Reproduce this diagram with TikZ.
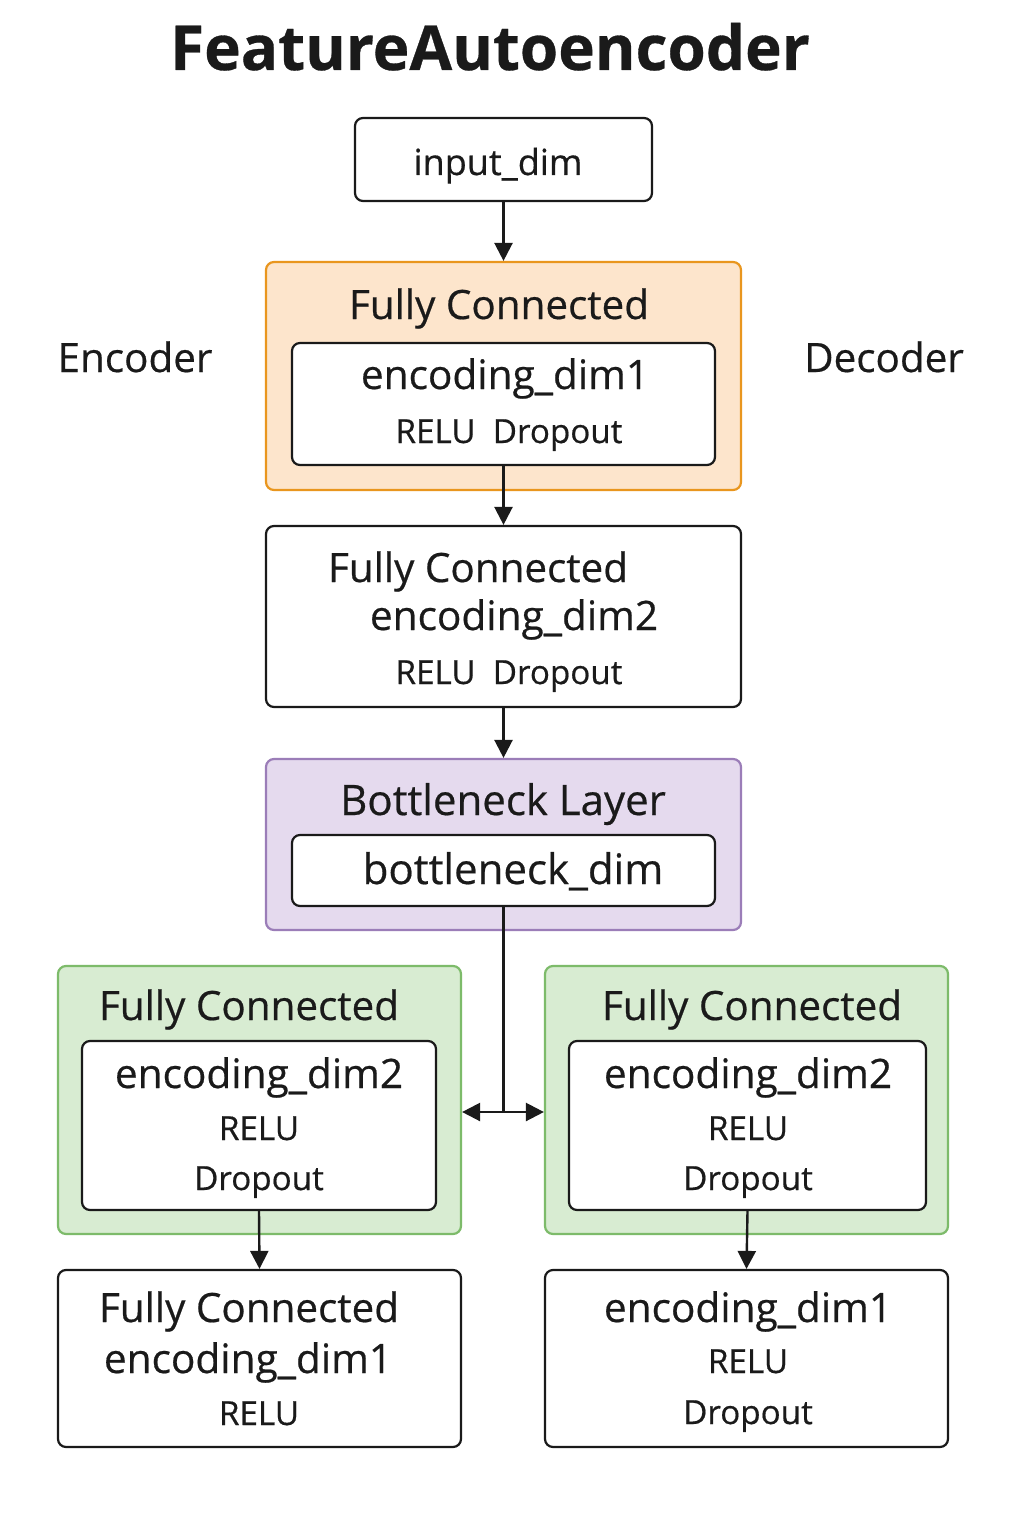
\documentclass[tikz,border=0pt]{standalone}
\usepackage{fontspec}
\setmainfont{Open Sans}[FakeBold=0.5]
\usetikzlibrary{arrows.meta}

\definecolor{inkblack}{HTML}{1A1A1A}
\definecolor{encfill}{HTML}{FDE5CC}
\definecolor{encline}{HTML}{E9961E}
\definecolor{botfill}{HTML}{E5DAEE}
\definecolor{botline}{HTML}{9B7DB8}
\definecolor{decfill}{HTML}{D8ECD2}
\definecolor{decline}{HTML}{7DBB6A}

\tikzset{
  layerbox/.style={draw=inkblack, line width=1.1pt, rounded corners=4pt, fill=white, inner sep=0pt},
  encbox/.style={layerbox, draw=encline, fill=encfill},
  botbox/.style={layerbox, draw=botline, fill=botfill},
  decbox/.style={layerbox, draw=decline, fill=decfill},
  txt/.style={anchor=base, inner sep=0pt, text=inkblack},
  headtxt/.style={txt, font=\fontsize{20.2}{24}\selectfont},
  dimtxt/.style={txt, font=\fontsize{20.3}{24}\selectfont},
  acttxt/.style={txt, font=\fontsize{16.6}{20}\selectfont},
  flow/.style={draw=inkblack, line width=1.2pt, -{Triangle[length=9pt,width=9pt]}},
}

\begin{document}
\begin{tikzpicture}[x=0.5pt,y=-0.5pt]
  \useasboundingbox[fill=white] (0,0) rectangle (1024,1536);

  % title and side labels
  \node[txt, font=\bfseries\fontsize{31}{36}\selectfont] (title) at (490,70) {FeatureAutoencoder};
  \node[headtxt] (enclbl) at (135,372) {Encoder};
  \node[headtxt] (declbl) at (884,372) {Decoder};

  % input
  \node[layerbox, minimum width=148.5pt, minimum height=41.5pt] (inp) at (503.5,159.5) {};
  \node[txt, font=\fontsize{18}{22}\selectfont] (inptxt) at (498,175) {input\_dim};

  % encoder, first layer
  \node[encbox, minimum width=237.5pt, minimum height=114pt] (enc1) at (503.5,376) {};
  \node[layerbox, minimum width=211.5pt, minimum height=61pt] (enc1in) at (503.5,404) {};
  \node[headtxt] (enc1head) at (499,319) {Fully Connected};
  \node[dimtxt] (enc1dim) at (505,389) {encoding\_dim1};
  \node[acttxt] (enc1act) at (509,443) {RELU\ \ Dropout};

  % encoder, second layer
  \node[layerbox, minimum width=237.5pt, minimum height=90.5pt] (enc2) at (503.5,616.5) {};
  \node[headtxt] (enc2head) at (478,582) {Fully Connected};
  \node[dimtxt] (enc2dim) at (514,630) {encoding\_dim2};
  \node[acttxt] (enc2act) at (509,684) {RELU\ \ Dropout};

  % bottleneck
  \node[botbox, minimum width=237.5pt, minimum height=85.5pt] (bot) at (503.5,844.5) {};
  \node[layerbox, minimum width=211.5pt, minimum height=35.5pt] (botin) at (503.5,870.5) {};
  \node[txt, font=\fontsize{21}{24}\selectfont] (bothead) at (503,815) {Bottleneck Layer};
  \node[txt, font=\fontsize{21}{24}\selectfont] (botdim) at (513,884) {bottleneck\_dim};

  % decoder, left branch
  \node[decbox, minimum width=201.5pt, minimum height=134pt] (decL) at (259.5,1100) {};
  \node[layerbox, minimum width=177pt, minimum height=84.5pt] (decLin) at (259,1125.5) {};
  \node[headtxt] (decLhead) at (249,1020) {Fully Connected};
  \node[dimtxt] (decLdim) at (259,1088) {encoding\_dim2};
  \node[acttxt] (decLrelu) at (259,1140) {RELU};
  \node[acttxt] (decLdrop) at (259,1190) {Dropout};

  \node[layerbox, minimum width=201.5pt, minimum height=88.5pt] (outL) at (259.5,1358.5) {};
  \node[headtxt] (outLhead) at (249,1322) {Fully Connected};
  \node[dimtxt] (outLdim) at (248,1373) {encoding\_dim1};
  \node[acttxt] (outLrelu) at (259,1425) {RELU};

  % decoder, right branch
  \node[decbox, minimum width=201.5pt, minimum height=134pt] (decR) at (746.5,1100) {};
  \node[layerbox, minimum width=178.5pt, minimum height=84.5pt] (decRin) at (747.5,1125.5) {};
  \node[headtxt] (decRhead) at (752,1020) {Fully Connected};
  \node[dimtxt] (decRdim) at (748,1088) {encoding\_dim2};
  \node[acttxt] (decRrelu) at (748,1140) {RELU};
  \node[acttxt] (decRdrop) at (748,1190) {Dropout};

  \node[layerbox, minimum width=201.5pt, minimum height=88.5pt] (outR) at (746.5,1358.5) {};
  \node[dimtxt] (outRdim) at (748,1322) {encoding\_dim1};
  \node[acttxt] (outRrelu) at (748,1373) {RELU};
  \node[acttxt] (outRdrop) at (748,1424) {Dropout};

  % connectors
  \draw[flow] (inp.south) -- (enc1.north);
  \draw[flow] (enc1in.south) -- (enc2.north);
  \draw[flow] (enc2.south) -- (bot.north);
  \coordinate (split) at (503.5,1112);
  \draw[draw=inkblack, line width=1.2pt] (botin.south) -- (split);
  \draw[flow] (split) -- (decL.east |- split);
  \draw[flow] (split) -- (decR.west |- split);
  \draw[flow] (decLin.south) -- (outL.north);
  \draw[flow] (decRin.south) -- (outR.north);
\end{tikzpicture}
\end{document}
